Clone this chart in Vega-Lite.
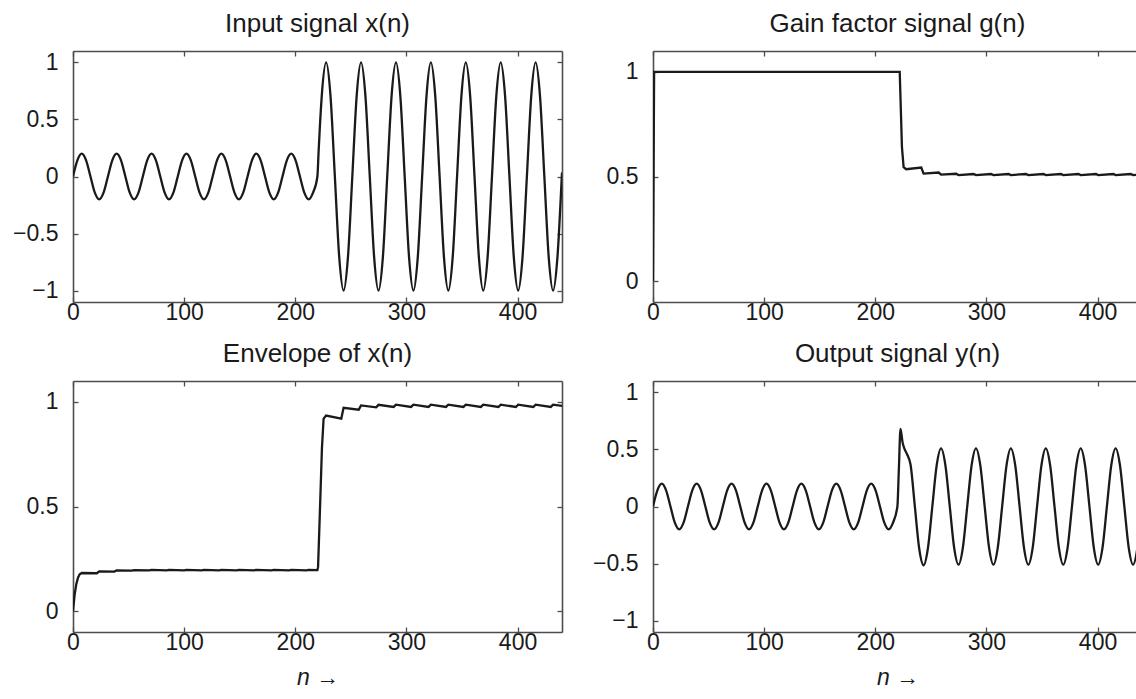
{
  "$schema": "https://vega.github.io/schema/vega-lite/v6.json",
  "padding": {"left": 12, "top": 11, "right": 0, "bottom": 0},
  "autosize": {"type": "pad"},
  "background": "white",
  "datasets": {
    "xs": [{"n":0,"v":0},{"n":3.93,"v":0.1414},{"n":7.85,"v":0.2},{"n":11.78,"v":0.1414},{"n":15.71,"v":0},{"n":19.63,"v":-0.1414},{"n":23.56,"v":-0.2},{"n":27.49,"v":-0.1414},
{"n":31.42,"v":0},{"n":35.34,"v":0.1414},{"n":39.27,"v":0.2},{"n":43.2,"v":0.1414},{"n":47.12,"v":0},{"n":51.05,"v":-0.1414},{"n":54.98,"v":-0.2},{"n":58.9,"v":-0.1414},
{"n":62.83,"v":0},{"n":66.76,"v":0.1414},{"n":70.69,"v":0.2},{"n":74.61,"v":0.1414},{"n":78.54,"v":0},{"n":82.47,"v":-0.1414},{"n":86.39,"v":-0.2},{"n":90.32,"v":-0.1414},
{"n":94.25,"v":0},{"n":98.17,"v":0.1414},{"n":102.1,"v":0.2},{"n":106.03,"v":0.1414},{"n":109.96,"v":0},{"n":113.88,"v":-0.1414},{"n":117.81,"v":-0.2},{"n":121.74,"v":-0.1414},
{"n":125.66,"v":0},{"n":129.59,"v":0.1414},{"n":133.52,"v":0.2},{"n":137.44,"v":0.1414},{"n":141.37,"v":0},{"n":145.3,"v":-0.1414},{"n":149.23,"v":-0.2},{"n":153.15,"v":-0.1414},
{"n":157.08,"v":0},{"n":161.01,"v":0.1414},{"n":164.93,"v":0.2},{"n":168.86,"v":0.1414},{"n":172.79,"v":0},{"n":176.71,"v":-0.1414},{"n":180.64,"v":-0.2},{"n":184.57,"v":-0.1414},
{"n":188.5,"v":0},{"n":192.42,"v":0.1414},{"n":196.35,"v":0.2},{"n":200.28,"v":0.1414},{"n":204.2,"v":0},{"n":208.13,"v":-0.1414},{"n":212.06,"v":-0.2},{"n":215.98,"v":-0.1414},
{"n":219.91,"v":0},{"n":221,"v":0.22},{"n":222,"v":0.41},{"n":223.84,"v":0.7071},{"n":227.77,"v":1},{"n":231.69,"v":0.7071},{"n":235.62,"v":0},{"n":239.55,"v":-0.7071},{"n":243.47,"v":-1},{"n":247.4,"v":-0.7071},
{"n":251.33,"v":0},{"n":255.25,"v":0.7071},{"n":259.18,"v":1},{"n":263.11,"v":0.7071},{"n":267.04,"v":0},{"n":270.96,"v":-0.7071},{"n":274.89,"v":-1},{"n":278.82,"v":-0.7071},
{"n":282.74,"v":0},{"n":286.67,"v":0.7071},{"n":290.6,"v":1},{"n":294.52,"v":0.7071},{"n":298.45,"v":0},{"n":302.38,"v":-0.7071},{"n":306.31,"v":-1},{"n":310.23,"v":-0.7071},
{"n":314.16,"v":0},{"n":318.09,"v":0.7071},{"n":322.01,"v":1},{"n":325.94,"v":0.7071},{"n":329.87,"v":0},{"n":333.79,"v":-0.7071},{"n":337.72,"v":-1},{"n":341.65,"v":-0.7071},
{"n":345.58,"v":0},{"n":349.5,"v":0.7071},{"n":353.43,"v":1},{"n":357.36,"v":0.7071},{"n":361.28,"v":0},{"n":365.21,"v":-0.7071},{"n":369.14,"v":-1},{"n":373.06,"v":-0.7071},
{"n":376.99,"v":0},{"n":380.92,"v":0.7071},{"n":384.85,"v":1},{"n":388.77,"v":0.7071},{"n":392.7,"v":0},{"n":396.63,"v":-0.7071},{"n":400.55,"v":-1},{"n":404.48,"v":-0.7071},
{"n":408.41,"v":0},{"n":412.33,"v":0.7071},{"n":416.26,"v":1},{"n":420.19,"v":0.7071},{"n":424.12,"v":0},{"n":428.04,"v":-0.7071},{"n":431.97,"v":-1},{"n":435.9,"v":-0.7071},
{"n":439.82,"v":0},{"n":440,"v":0.035}],
    "ys": [{"n":0,"v":0},{"n":3.93,"v":0.1414},{"n":7.85,"v":0.2},{"n":11.78,"v":0.1414},{"n":15.71,"v":0},{"n":19.63,"v":-0.1414},{"n":23.56,"v":-0.2},{"n":27.49,"v":-0.1414},
{"n":31.42,"v":0},{"n":35.34,"v":0.1414},{"n":39.27,"v":0.2},{"n":43.2,"v":0.1414},{"n":47.12,"v":0},{"n":51.05,"v":-0.1414},{"n":54.98,"v":-0.2},{"n":58.9,"v":-0.1414},
{"n":62.83,"v":0},{"n":66.76,"v":0.1414},{"n":70.69,"v":0.2},{"n":74.61,"v":0.1414},{"n":78.54,"v":0},{"n":82.47,"v":-0.1414},{"n":86.39,"v":-0.2},{"n":90.32,"v":-0.1414},
{"n":94.25,"v":0},{"n":98.17,"v":0.1414},{"n":102.1,"v":0.2},{"n":106.03,"v":0.1414},{"n":109.96,"v":0},{"n":113.88,"v":-0.1414},{"n":117.81,"v":-0.2},{"n":121.74,"v":-0.1414},
{"n":125.66,"v":0},{"n":129.59,"v":0.1414},{"n":133.52,"v":0.2},{"n":137.44,"v":0.1414},{"n":141.37,"v":0},{"n":145.3,"v":-0.1414},{"n":149.23,"v":-0.2},{"n":153.15,"v":-0.1414},
{"n":157.08,"v":0},{"n":161.01,"v":0.1414},{"n":164.93,"v":0.2},{"n":168.86,"v":0.1414},{"n":172.79,"v":0},{"n":176.71,"v":-0.1414},{"n":180.64,"v":-0.2},{"n":184.57,"v":-0.1414},
{"n":188.5,"v":0},{"n":192.42,"v":0.1414},{"n":196.35,"v":0.2},{"n":200.28,"v":0.1414},{"n":204.2,"v":0},{"n":208.13,"v":-0.1414},{"n":212.06,"v":-0.2},{"n":215.98,"v":-0.1414},
{"n":219.91,"v":0},{"n":221.2,"v":0.32},{"n":222.7,"v":0.68},{"n":224.6,"v":0.56},{"n":226.5,"v":0.5},{"n":228.5,"v":0.46},{"n":231.69,"v":0.37},{"n":235.62,"v":0},{"n":239.55,"v":-0.37},{"n":243.47,"v":-0.515},{"n":247.4,"v":-0.364},
{"n":251.33,"v":0},{"n":255.25,"v":0.3606},{"n":259.18,"v":0.51},{"n":263.11,"v":0.3606},{"n":267.04,"v":0},{"n":270.96,"v":-0.3606},{"n":274.89,"v":-0.51},{"n":278.82,"v":-0.3606},
{"n":282.74,"v":0},{"n":286.67,"v":0.3606},{"n":290.6,"v":0.51},{"n":294.52,"v":0.3606},{"n":298.45,"v":0},{"n":302.38,"v":-0.3606},{"n":306.31,"v":-0.51},{"n":310.23,"v":-0.3606},
{"n":314.16,"v":0},{"n":318.09,"v":0.3606},{"n":322.01,"v":0.51},{"n":325.94,"v":0.3606},{"n":329.87,"v":0},{"n":333.79,"v":-0.3606},{"n":337.72,"v":-0.51},{"n":341.65,"v":-0.3606},
{"n":345.58,"v":0},{"n":349.5,"v":0.3606},{"n":353.43,"v":0.51},{"n":357.36,"v":0.3606},{"n":361.28,"v":0},{"n":365.21,"v":-0.3606},{"n":369.14,"v":-0.51},{"n":373.06,"v":-0.3606},
{"n":376.99,"v":0},{"n":380.92,"v":0.3606},{"n":384.85,"v":0.51},{"n":388.77,"v":0.3606},{"n":392.7,"v":0},{"n":396.63,"v":-0.3606},{"n":400.55,"v":-0.51},{"n":404.48,"v":-0.3606},
{"n":408.41,"v":0},{"n":412.33,"v":0.3606},{"n":416.26,"v":0.51},{"n":420.19,"v":0.3606},{"n":424.12,"v":0},{"n":428.04,"v":-0.3606},{"n":431.97,"v":-0.51},{"n":435.9,"v":-0.3606},
{"n":439.82,"v":0},{"n":440,"v":0.018}],
    "env": [{"n":0,"v":0},{"n":1.5,"v":0.08},{"n":3,"v":0.13},{"n":4.5,"v":0.16},{"n":6,"v":0.176},{"n":7.85,"v":0.182},{"n":21.5,"v":0.181},{"n":23.56,"v":0.19},{"n":37.2,"v":0.189},{"n":39.27,"v":0.194},{"n":52.9,"v":0.193},{"n":54.98,"v":0.196},{"n":68.6,"v":0.195},{"n":70.69,"v":0.197},{"n":84.3,"v":0.195},{"n":86.39,"v":0.197},{"n":100,"v":0.195},{"n":102.1,"v":0.197},{"n":115.7,"v":0.195},{"n":117.81,"v":0.197},{"n":131.4,"v":0.195},{"n":133.52,"v":0.197},{"n":147.1,"v":0.195},{"n":149.23,"v":0.197},{"n":162.8,"v":0.195},{"n":164.93,"v":0.197},{"n":178.5,"v":0.195},{"n":180.64,"v":0.197},{"n":194.3,"v":0.195},{"n":196.35,"v":0.197},{"n":210,"v":0.195},{"n":212.06,"v":0.197},{"n":219.9,"v":0.196},{"n":220.5,"v":0.21},{"n":222,"v":0.45},{"n":224,"v":0.78},{"n":225.5,"v":0.92},{"n":227.77,"v":0.935},{"n":241.4,"v":0.92},{"n":243.47,"v":0.972},{"n":257.1,"v":0.963},{"n":259.18,"v":0.983},{"n":272.8,"v":0.974},{"n":274.89,"v":0.986},{"n":288.5,"v":0.976},{"n":290.6,"v":0.987},{"n":304.2,"v":0.976},{"n":306.31,"v":0.987},{"n":319.9,"v":0.976},{"n":322.01,"v":0.987},{"n":335.6,"v":0.976},{"n":337.72,"v":0.987},{"n":351.3,"v":0.976},{"n":353.43,"v":0.987},{"n":367,"v":0.976},{"n":369.14,"v":0.987},{"n":382.8,"v":0.976},{"n":384.85,"v":0.987},{"n":398.5,"v":0.976},{"n":400.55,"v":0.987},{"n":414.2,"v":0.976},{"n":416.26,"v":0.987},{"n":429.9,"v":0.976},{"n":431.97,"v":0.987},{"n":440,"v":0.981}],
    "gain": [{"n":0,"v":0},{"n":1,"v":1},{"n":222,"v":1},{"n":224,"v":0.64},{"n":225.5,"v":0.545},{"n":227.77,"v":0.535},{"n":241.4,"v":0.543},{"n":243.47,"v":0.514},{"n":257.1,"v":0.519},{"n":259.18,"v":0.509},{"n":272.8,"v":0.513},{"n":274.89,"v":0.507},{"n":288.5,"v":0.512},{"n":290.6,"v":0.507},{"n":304.2,"v":0.512},{"n":306.31,"v":0.507},{"n":319.9,"v":0.512},{"n":322.01,"v":0.507},{"n":335.6,"v":0.512},{"n":337.72,"v":0.507},{"n":351.3,"v":0.512},{"n":353.43,"v":0.507},{"n":367,"v":0.512},{"n":369.14,"v":0.507},{"n":382.8,"v":0.512},{"n":384.85,"v":0.507},{"n":398.5,"v":0.512},{"n":400.55,"v":0.507},{"n":414.2,"v":0.512},{"n":416.26,"v":0.507},{"n":429.9,"v":0.512},{"n":431.97,"v":0.507},{"n":440,"v":0.51}]
  },
  "columns": 2,
  "spacing": {"row": 79, "column": 91},
  "bounds": "flush",
  "concat": [
    {
      "width": 489, "height": 251,
      "title": {"text": "Input signal x(n)"},
      "data": {"name": "xs"},
      "layer": [
        {"mark": {"type": "line", "interpolate": "monotone", "clip": true, "color": "#1a1a1a", "strokeWidth": 2.3},
         "encoding": {
           "x": {"field": "n", "type": "quantitative", "scale": {"domain": [0, 440], "nice": false, "zero": false}, "axis": {"orient": "bottom", "values": [0,100,200,300,400], "format": "d", "title": null}},
           "y": {"field": "v", "type": "quantitative", "scale": {"domain": [-1.1, 1.1], "nice": false, "zero": false}, "axis": {"orient": "left", "values": [-1,-0.5,0,0.5,1], "format": "~g", "title": null}}
         }},
        {"mark": {"type": "line", "clip": true, "strokeOpacity": 0},
         "encoding": {
           "x": {"field": "n", "type": "quantitative", "axis": {"orient": "top", "values": [0,100,200,300,400], "labels": false, "title": null}},
           "y": {"field": "v", "type": "quantitative", "axis": {"orient": "right", "values": [-1,-0.5,0,0.5,1], "labels": false, "title": null}}
         }}
      ],
      "resolve": {"axis": {"x": "independent", "y": "independent"}}
    },
    {
      "width": 483, "height": 251,
      "title": {"text": "Gain factor signal g(n)", "dx": 3},
      "data": {"name": "gain"},
      "layer": [
        {"mark": {"type": "line", "clip": true, "color": "#1a1a1a", "strokeWidth": 2.3},
         "encoding": {
           "x": {"field": "n", "type": "quantitative", "scale": {"domain": [0, 434.6], "nice": false, "zero": false}, "axis": {"orient": "bottom", "values": [0,100,200,300,400], "format": "d", "title": null}},
           "y": {"field": "v", "type": "quantitative", "scale": {"domain": [-0.1, 1.1], "nice": false, "zero": false}, "axis": {"orient": "left", "values": [0,0.5,1], "format": "~g", "title": null}}
         }},
        {"mark": {"type": "line", "clip": true, "strokeOpacity": 0},
         "encoding": {
           "x": {"field": "n", "type": "quantitative", "axis": {"orient": "top", "values": [0,100,200,300,400], "labels": false, "title": null}},
           "y": {"field": "v", "type": "quantitative", "axis": null}
         }}
      ],
      "resolve": {"axis": {"x": "independent", "y": "independent"}}
    },
    {
      "width": 489, "height": 251,
      "title": {"text": "Envelope of x(n)"},
      "data": {"name": "env"},
      "layer": [
        {"mark": {"type": "line", "clip": true, "color": "#1a1a1a", "strokeWidth": 2.3},
         "encoding": {
           "x": {"field": "n", "type": "quantitative", "scale": {"domain": [0, 440], "nice": false, "zero": false}, "axis": {"orient": "bottom", "values": [0,100,200,300,400], "format": "d", "title": "n →"}},
           "y": {"field": "v", "type": "quantitative", "scale": {"domain": [-0.1, 1.1], "nice": false, "zero": false}, "axis": {"orient": "left", "values": [0,0.5,1], "format": "~g", "title": null}}
         }},
        {"mark": {"type": "line", "clip": true, "strokeOpacity": 0},
         "encoding": {
           "x": {"field": "n", "type": "quantitative", "axis": {"orient": "top", "values": [0,100,200,300,400], "labels": false, "title": null}},
           "y": {"field": "v", "type": "quantitative", "axis": {"orient": "right", "values": [0,0.5,1], "labels": false, "title": null}}
         }}
      ],
      "resolve": {"axis": {"x": "independent", "y": "independent"}}
    },
    {
      "width": 483, "height": 251,
      "title": {"text": "Output signal y(n)", "dx": 3},
      "data": {"name": "ys"},
      "layer": [
        {"mark": {"type": "line", "interpolate": "monotone", "clip": true, "color": "#1a1a1a", "strokeWidth": 2.3},
         "encoding": {
           "x": {"field": "n", "type": "quantitative", "scale": {"domain": [0, 434.6], "nice": false, "zero": false}, "axis": {"orient": "bottom", "values": [0,100,200,300,400], "format": "d", "title": "n →", "titleX": 244.5}},
           "y": {"field": "v", "type": "quantitative", "scale": {"domain": [-1.1, 1.1], "nice": false, "zero": false}, "axis": {"orient": "left", "values": [-1,-0.5,0,0.5,1], "format": "~g", "title": null}}
         }},
        {"mark": {"type": "line", "clip": true, "strokeOpacity": 0},
         "encoding": {
           "x": {"field": "n", "type": "quantitative", "axis": {"orient": "top", "values": [0,100,200,300,400], "labels": false, "title": null}},
           "y": {"field": "v", "type": "quantitative", "axis": null}
         }}
      ],
      "resolve": {"axis": {"x": "independent", "y": "independent"}}
    }
  ],
  "config": {
    "font": "Liberation Sans",
    "view": {"stroke": null},
    "axis": {"grid": false, "domain": true, "domainColor": "#4d4d4d", "domainWidth": 1.6, "tickColor": "#4d4d4d", "tickWidth": 1.3, "tickSize": -5, "labelFont": "Liberation Sans", "labelFontSize": 23, "labelColor": "#1a1a1a", "titleFont": "Liberation Sans", "titleFontSize": 23, "titleFontWeight": "normal", "titleFontStyle": "italic", "titleColor": "#1a1a1a", "labelFlush": false, "labelOverlap": false},
    "axisX": {"labelPadding": 4.5, "titlePadding": 12},
    "axisY": {"labelPadding": 20},
    "title": {"font": "Liberation Sans", "fontSize": 26, "fontWeight": "normal", "color": "#1a1a1a", "offset": 13, "baseline": "alphabetic", "frame": "group", "anchor": "middle"}
  }
}
